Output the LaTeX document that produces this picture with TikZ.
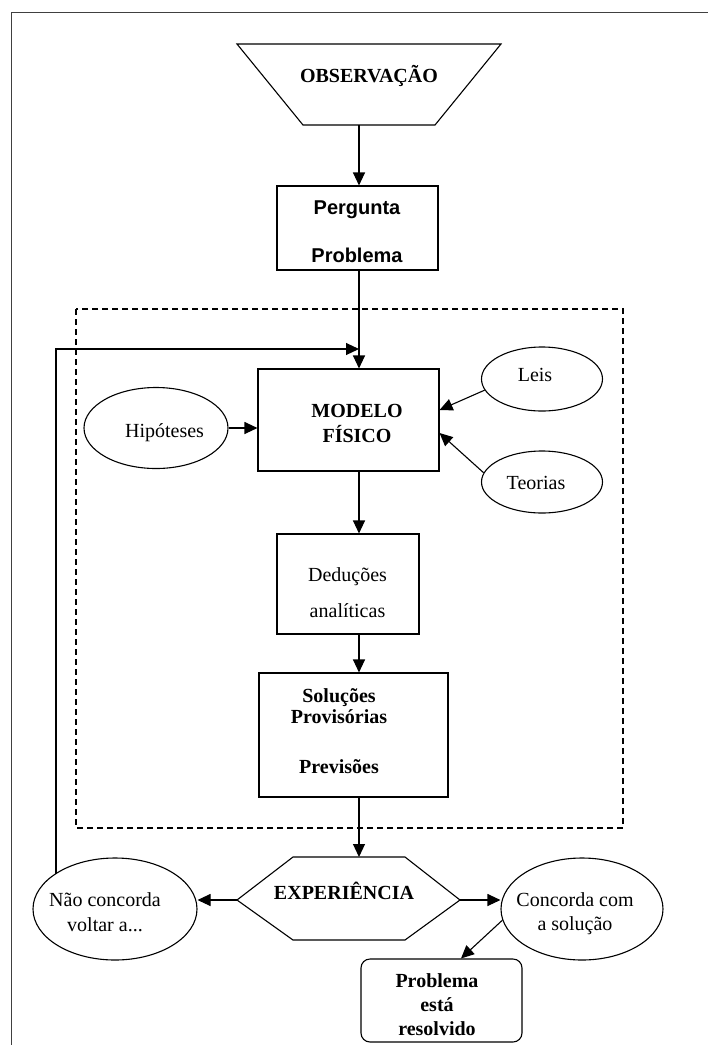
\documentclass[tikz,border=0pt]{standalone}
\usepackage{fontspec}
\setmainfont{Liberation Serif}
\newfontfamily\arialf{Liberation Sans}
\usetikzlibrary{arrows.meta,shapes.geometric,calc}
\begin{document}
\begin{tikzpicture}[x=1pt,y=-1pt,
  ln/.style={line width=1.1pt},
  arr/.style={line width=1.1pt,-{Triangle[length=13pt,width=12pt]}},
  box/.style={draw,line width=1.1pt,rectangle,inner sep=0pt},
  ell/.style={draw,line width=1.1pt,ellipse,inner sep=0pt},
  lbl/.style={font=\fontsize{20}{24}\selectfont,align=center,inner sep=0pt},
  lblb/.style={font=\fontsize{20}{24}\selectfont\bfseries,align=center,inner sep=0pt},
  lbls/.style={font=\fontsize{20}{24}\selectfont\arialf\bfseries,align=center,inner sep=0pt},
  frame/.style={line width=1pt,draw=black!75},
  dashbox/.style={line width=1.1pt,dash pattern=on 6pt off 4pt}]
\useasboundingbox (0,0) rectangle (708,1045);

% outer frame
\coordinate (fa) at (11,1045);
\coordinate (fb) at (11,12);
\coordinate (fc) at (708,12);
\draw[frame] (fa) -- (fb) -- (fc);

% dashed region
\coordinate (d1) at (76,309);
\coordinate (d2) at (623,828);
\draw[dashbox] (d1) rectangle (d2);

% axis of main flow
\coordinate (ax) at (359,0);

% observation trapezoid
\coordinate (t1) at (237,44);
\coordinate (t2) at (501,44);
\coordinate (t3) at (435,125);
\coordinate (t4) at (303,125);
\draw[ln] (t1) -- (t2) -- (t3) -- (t4) -- cycle;
\node[lblb] (obs) at (369,75.5) {OBSERVAÇÃO};
\coordinate (obsb) at (359,125);

% boxes
\node[box,minimum width=161pt,minimum height=84pt] (perg) at (357.5,228) {};
\node[lbls] (pergt) at (357,231.5) {Pergunta\\[24pt]Problema};

\node[box,minimum width=181pt,minimum height=102pt] (modelo) at (348.5,420) {};
\node[lblb] (modelot) at (357,423) {MODELO\\[1pt]FÍSICO};

\node[box,minimum width=142pt,minimum height=100pt] (ded) at (348,584) {};
\node[lbl] (dedt) at (347.5,593) {Deduções\\[12pt]analíticas};

\node[box,minimum width=189pt,minimum height=124pt] (sol) at (353.5,735) {};
\node[lblb] (solt) at (339,731.5) {Soluções\\[-3pt]Provisórias\\[26pt]Previsões};

\node[box,rounded corners=9pt,minimum width=161pt,minimum height=83pt] (res) at (441.5,1000.5) {};
\node[lblb] (rest) at (437,1004.5) {Problema\\está\\resolvido};

% ellipses
\node[ell,minimum width=144pt,minimum height=81pt] (hip) at (156,428) {};
\node[lbl] (hipt) at (164.5,433) {Hipóteses};
\node[ell,minimum width=121pt,minimum height=64pt] (leis) at (542,379) {};
\node[lbl] (leist) at (535,375) {Leis};
\node[ell,minimum width=121pt,minimum height=62pt] (teo) at (542,482) {};
\node[lbl] (teot) at (536,482.5) {Teorias};
\node[ell,minimum width=164pt,minimum height=102pt] (nao) at (115,909) {};
\node[lbl] (naot) at (105,912.5) {Não concorda\\[1pt]voltar a...};
\node[ell,minimum width=162pt,minimum height=102pt] (conc) at (582,909) {};
\node[lbl] (conct) at (575,913.5) {Concorda com\\a solução};

% hexagon
\coordinate (h1) at (237,900);
\coordinate (h2) at (293,857);
\coordinate (h3) at (405,857);
\coordinate (h4) at (460,900);
\coordinate (h5) at (405,940);
\coordinate (h6) at (293,940);
\draw[ln] (h1) -- (h2) -- (h3) -- (h4) -- (h5) -- (h6) -- cycle;
\node[lblb] (exp) at (344,890.5) {EXPERIÊNCIA};
\coordinate (hexn) at (359,857);

% connectors
\draw[arr] (obsb) -- (obsb |- perg.north);
\draw[arr] (perg.south -| ax) -- (modelo.north -| ax);
\draw[arr] (hip.east) -- (hip.east -| modelo.west);
\draw[arr] (leis.191) -- ([yshift=10pt]modelo.east);
\draw[arr] (teo.171) -- ([yshift=-13pt]modelo.east);
\draw[arr] (modelo.south -| ax) -- (ded.north -| ax);
\draw[arr] (ded.south -| ax) -- (sol.north -| ax);
\draw[arr] (sol.south -| ax) -- (hexn);
\draw[arr] (h1) -- (h1 -| nao.east);
\draw[arr] (h4) -- (h4 -| conc.west);
\draw[arr] (conc.188) -- ([xshift=19.5pt]res.north);

% feedback loop
\coordinate (fbs) at (56,873.6);
\coordinate (fbe) at (359,349);
\draw[arr] (fbs) |- (fbe);
\end{tikzpicture}
\end{document}
